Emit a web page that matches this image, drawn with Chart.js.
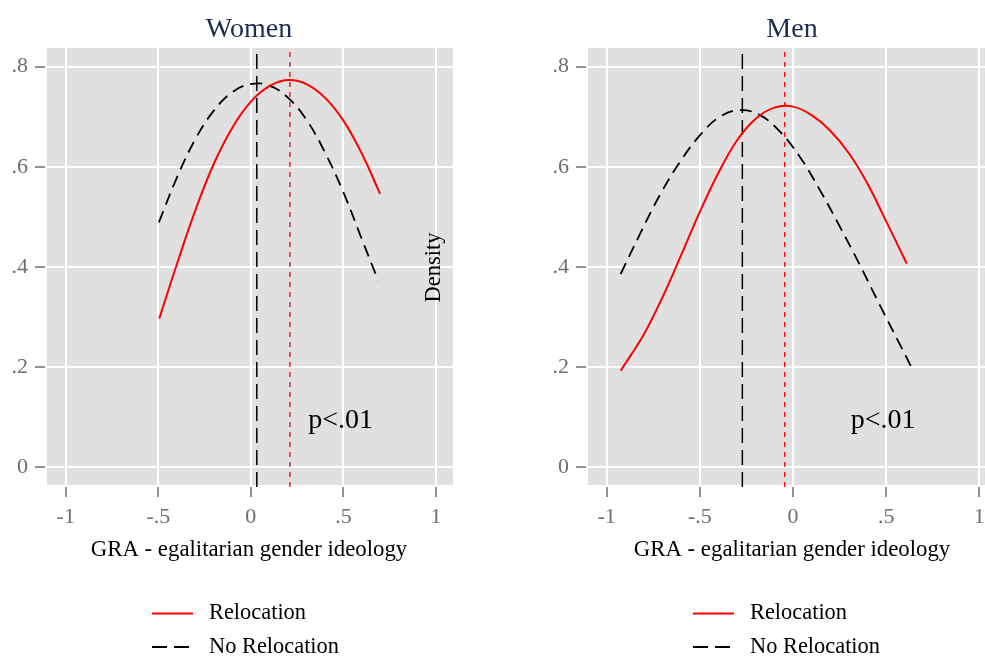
<!DOCTYPE html>
<html><head><meta charset="utf-8">
<script src="https://cdn.jsdelivr.net/npm/chart.js@4"></script>
<style>
html,body{margin:0;padding:0;background:#fff;overflow:hidden;}
#wrap{position:relative;width:985px;height:657px;overflow:hidden;}
canvas{position:absolute;top:0;}
#cw{left:0}
#cm{left:530px}
</style></head><body>
<div id="wrap"><canvas id="cw" width="460" height="657"></canvas><canvas id="cm" width="470" height="657"></canvas></div>
<script>
// ---- data ----
const xTicks = [-1, -0.5, 0, 0.5, 1];
const xTickLabels = ["-1", "-.5", "0", ".5", "1"];
const yTicks = [0, 0.2, 0.4, 0.6, 0.8];
const yTickLabels = ["0", ".2", ".4", ".6", ".8"];
const seriesNames = ["Relocation", "No Relocation"];
const panelTitles = ["Women", "Men"];
const xAxisTitle = "GRA - egalitarian gender ideology";
const yAxisTitle = "Density";
const pValueText = "p<.01";

const womenRelocX = [-0.495, -0.4, -0.3, -0.2, -0.1, 0, 0.1, 0.2, 0.3, 0.4, 0.5, 0.6, 0.698];
const womenRelocY = [0.297, 0.405, 0.513, 0.606, 0.678, 0.730, 0.761, 0.773, 0.765, 0.738, 0.692, 0.626, 0.546];
const womenNoRelocX = [-0.497, -0.4, -0.3, -0.2, -0.1, 0, 0.1, 0.2, 0.3, 0.4, 0.5, 0.6, 0.688];
const womenNoRelocY = [0.489, 0.578, 0.655, 0.712, 0.749, 0.765, 0.762, 0.738, 0.694, 0.629, 0.549, 0.455, 0.373];
const womenMeans = [0.211, 0.032]; // Relocation, No Relocation

const menRelocX = [-0.925, -0.8, -0.7, -0.6, -0.5, -0.4, -0.3, -0.2, -0.1, 0, 0.1, 0.2, 0.3, 0.4, 0.5, 0.61];
const menRelocY = [0.193, 0.266, 0.340, 0.424, 0.510, 0.588, 0.653, 0.696, 0.718, 0.720, 0.703, 0.672, 0.627, 0.566, 0.491, 0.407];
const menNoRelocX = [-0.925, -0.821, -0.714, -0.606, -0.499, -0.392, -0.284, -0.177, -0.07, 0.038, 0.145, 0.252, 0.36, 0.467, 0.574, 0.637];
const menNoRelocY = [0.386, 0.466, 0.544, 0.610, 0.663, 0.700, 0.713, 0.703, 0.670, 0.619, 0.553, 0.480, 0.403, 0.323, 0.245, 0.199];
const menMeans = [-0.045, -0.272];

const pValuePos = [0.31, 0.094]; // x (left), y (middle) in data units

// ---- styling ----
const FONT = "'Liberation Serif', 'Times New Roman', serif";
const RED = "#ff0000", BLACK = "#000000", GREY = "#6e6e6e", BG = "#e0e0e0", NAVY = "#1c2c52";
const Y_MIN = -0.039, Y_MAX = 0.837;

function pts(xs, ys) { return xs.map((x, i) => ({ x: x, y: ys[i] })); }
function vline(x) { return [{ x: x, y: Y_MIN }, { x: x, y: Y_MAX }]; }

const bgPlugin = {
  id: 'bg',
  beforeDraw(chart) {
    const a = chart.chartArea, c = chart.ctx;
    c.save(); c.fillStyle = BG;
    c.fillRect(a.left + 2, a.top, a.right - a.left - 2, a.bottom - a.top - 2);
    c.restore();
  }
};

const textPlugin = {
  id: 'texts',
  afterDraw(chart, args, opts) {
    const c = chart.ctx, a = chart.chartArea;
    const xs = chart.scales.x, ys = chart.scales.y;
    c.save();
    // p-value
    c.fillStyle = BLACK; c.font = "28px " + FONT;
    c.textAlign = 'left'; c.textBaseline = 'middle';
    c.fillText(pValueText, xs.getPixelForValue(pValuePos[0]), ys.getPixelForValue(pValuePos[1]));
    // Density (rotated)
    if (opts.density) {
      c.save();
      c.translate(a.right - 19, (a.top + a.bottom) / 2);
      c.rotate(-Math.PI / 2);
      c.font = "22.5px " + FONT; c.textAlign = 'center'; c.textBaseline = 'middle';
      c.fillText(yAxisTitle, 0, 0);
      c.restore();
    }
    // legend
    const lx = a.left + 107, rows = [613.5, 647];
    chart.data.datasets.slice(0, 2).forEach((ds, i) => {
      const y = rows[i];
      c.save();
      c.strokeStyle = ds.borderColor; c.lineWidth = 2;
      c.setLineDash(i === 0 ? [] : [15, 7]);
      c.beginPath(); c.moveTo(lx, y); c.lineTo(lx + (i === 0 ? 41 : 38), y); c.stroke();
      c.restore();
      c.fillStyle = BLACK; c.font = "22.4px " + FONT;
      c.textAlign = 'left'; c.textBaseline = 'middle';
      c.fillText(ds.label, lx + 57, y);
    });
    c.restore();
  }
};

function makeChart(id, title, relocX, relocY, noX, noY, means, xmin, xmax, yWidth, padRight, density) {
  return new Chart(document.getElementById(id), {
    type: 'line',
    data: {
      datasets: [
        { label: seriesNames[0], data: pts(relocX, relocY), borderColor: RED, borderWidth: 2, pointRadius: 0, tension: 0.4, fill: false },
        { label: seriesNames[1], data: pts(noX, noY), borderColor: BLACK, borderWidth: 1.8, borderDash: [12, 7], pointRadius: 0, tension: 0.4, fill: false },
        { label: 'meanReloc', data: vline(means[0]), borderColor: RED, borderWidth: 1.3, borderDash: [5, 5], pointRadius: 0, fill: false },
        { label: 'meanNoReloc', data: vline(means[1]), borderColor: BLACK, borderWidth: 1.5, borderDash: [15, 7], pointRadius: 0, fill: false }
      ]
    },
    options: {
      responsive: false, animation: false, devicePixelRatio: 1,
      layout: { padding: { top: 0, right: padRight, bottom: 90, left: 0 } },
      scales: {
        x: {
          type: 'linear', min: xmin, max: xmax,
          afterBuildTicks: s => { s.ticks = xTicks.map(v => ({ value: v })); },
          afterFit: s => { s.height = 80; },
          ticks: { callback: (v, i) => xTickLabels[i], font: { family: FONT, size: 22 }, color: GREY, padding: 7, maxRotation: 0, autoSkip: false },
          grid: { color: '#ffffff', lineWidth: 2, tickColor: GREY, tickLength: 10, tickWidth: 1.5 },
          border: { display: false },
          title: { display: true, text: xAxisTitle, font: { family: FONT, size: 22.8 }, color: BLACK, padding: { top: 0, bottom: 3 } }
        },
        y: {
          min: Y_MIN, max: Y_MAX,
          afterBuildTicks: s => { s.ticks = yTicks.map(v => ({ value: v })); },
          afterFit: s => { s.width = yWidth; },
          ticks: { callback: (v, i) => yTickLabels[i], font: { family: FONT, size: 22 }, color: GREY, padding: 7, autoSkip: false },
          grid: { color: '#ffffff', lineWidth: 2, tickColor: GREY, tickLength: 10, tickWidth: 1.5 },
          border: { display: false }
        }
      },
      plugins: {
        legend: { display: false },
        tooltip: { enabled: false },
        title: { display: true, text: title, fullSize: false, font: { family: FONT, size: 28, weight: 'normal' }, color: NAVY, padding: { top: 13, bottom: 1.4 } },
        texts: { density: density }
      }
    },
    plugins: [bgPlugin, textPlugin]
  });
}

makeChart('cw', panelTitles[0], womenRelocX, womenRelocY, womenNoRelocX, womenNoRelocY, womenMeans, -1.112, 1.092, 45, 7, true);
makeChart('cm', panelTitles[1], menRelocX, menRelocY, menNoRelocX, menNoRelocY, menMeans, -1.111, 1.1, 56, 2, false);
</script>
</body></html>
